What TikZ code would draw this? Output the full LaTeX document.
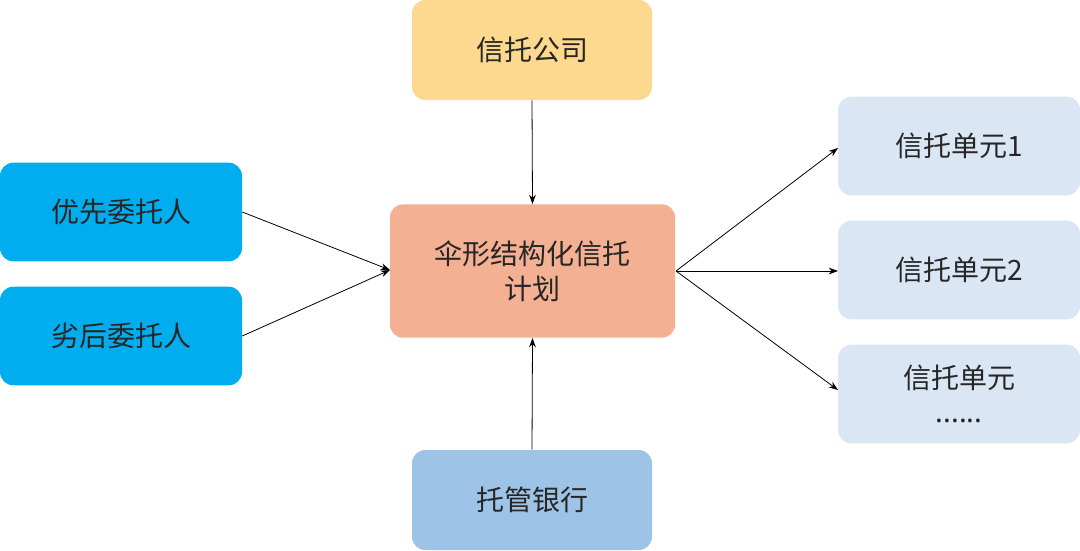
\documentclass[tikz,border=0pt]{standalone}
\usepackage{fontspec}
\setmainfont{Noto Sans CJK SC}
\usetikzlibrary{arrows.meta}
\definecolor{cOrange}{HTML}{FCD98F}
\definecolor{cBlue}{HTML}{00AEEF}
\definecolor{cSalmon}{HTML}{F4B093}
\definecolor{cBank}{HTML}{9DC3E6}
\definecolor{cUnit}{HTML}{DAE6F3}
\begin{document}
\begin{tikzpicture}[x=0.75pt,y=-0.75pt,
  box/.style={rounded corners=10pt,inner sep=0pt,align=center,font=\fontsize{21}{26}\selectfont,text=black!85},
  arr/.style={-{Stealth[length=7pt,width=5pt]},black,line width=0.6pt}]
\useasboundingbox (0,0) rectangle (1080,550);
\node[box,fill=cOrange,minimum width=180pt,minimum height=75pt] (tc) at (532,50) {信托公司};
\node[box,fill=cBlue,minimum width=181.5pt,minimum height=74pt] (p1) at (121,212) {优先委托人};
\node[box,fill=cBlue,minimum width=181.5pt,minimum height=74pt] (p2) at (121,336) {劣后委托人};
\node[box,fill=cSalmon,minimum width=214pt,minimum height=100pt] (m) at (532.5,271) {伞形结构化信托\\计划};
\node[box,fill=cBank,minimum width=180pt,minimum height=75pt] (bk) at (532,500) {托管银行};
\node[box,fill=cUnit,minimum width=181.5pt,minimum height=74pt] (u1) at (959,146) {信托单元1};
\node[box,fill=cUnit,minimum width=181.5pt,minimum height=74pt] (u2) at (959,270) {信托单元2};
\node[box,fill=cUnit,minimum width=181.5pt,minimum height=74pt] (u3) at (959,394) {信托单元\\......};
\coordinate (mw) at (390,270);
\coordinate (me) at (676,271);
\draw[arr] (tc.south) -- (m.north);
\draw[arr] (bk.north) -- (m.south);
\draw[arr] (p1.east) -- (mw);
\draw[arr] (p2.east) -- (mw);
\draw[arr] (me) -- (838,148);
\draw[arr] (me) -- (838,271);
\draw[arr] (me) -- (838,390);
\end{tikzpicture}
\end{document}
